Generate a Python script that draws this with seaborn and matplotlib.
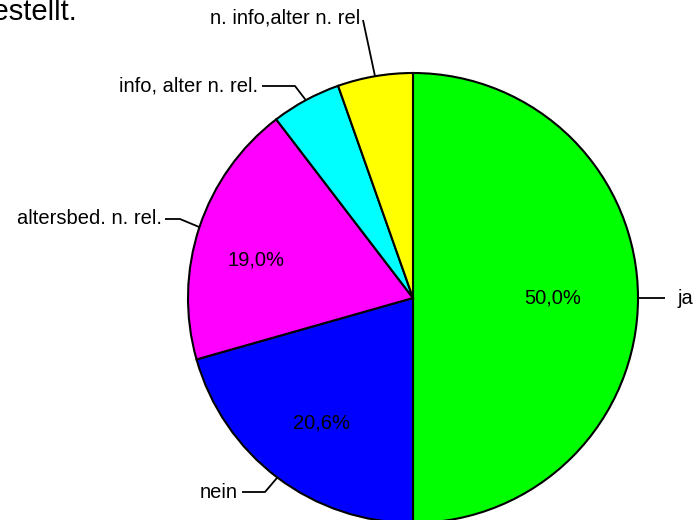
# pie chart of the answers, R-style labels with leader lines

import numpy as np
import matplotlib
matplotlib.use("Agg")
import matplotlib.pyplot as plt
import seaborn as sns

# data
categories = ["ja", "nein", "altersbed. n. rel.", "info, alter n. rel.", "n. info,alter n. rel"]
shares = [50.0, 20.6, 19.0, 5.0, 5.4]
colors = ["#00ff00", "#0000ff", "#ff00ff", "#00ffff", "#ffff00"]
show_pct = [True, True, True, False, False]

sns.set_style("white")
plt.rcParams["font.family"] = ["Liberation Sans", "DejaVu Sans"]
plt.rcParams["text.color"] = "black"

W, H = 695, 520
cx, cy, R = 413, 298, 225   # pie centre and radius in pixels


def px(x, y):
    # pixel position (from top left) -> data coords with pie radius 1
    return (x - cx) / R, (cy - y) / R


fig = plt.figure(figsize=(W / 100, H / 100), dpi=100)
ax = fig.add_axes([0, 0, 1, 1])

wedges, _ = ax.pie(shares, colors=colors, startangle=90, counterclock=False,
                   radius=1, wedgeprops=dict(edgecolor="black", linewidth=1.5))

# pie() resets the limits, so set them afterwards
ax.set_xlim(px(0, 0)[0], px(W, 0)[0])
ax.set_ylim(px(0, H)[1], px(0, 0)[1])
ax.set_aspect("equal")
ax.axis("off")

# label layout: elbow point and text anchor in pixels, text alignment
label_layout = [
    dict(elbow=None, text=(677, 298), ha="left"),
    dict(elbow=(265, 492), text=(238, 492), ha="right"),
    dict(elbow=(180, 219), text=(162, 219), ha="right"),
    dict(elbow=(295, 86), text=(258, 86), ha="right"),
    dict(elbow=None, text=(360, 18), ha="right"),
]
line_end = [(665, 298), (242, 492), (165, 219), (262, 86), (363, 20)]
pct_pos = [(553, 298), (321, 423), (256, 260)]

for i, w in enumerate(wedges):
    mid = np.deg2rad((w.theta1 + w.theta2) / 2)
    pts = [(np.cos(mid), np.sin(mid))]
    lay = label_layout[i]
    if lay["elbow"] is not None:
        pts.append(px(*lay["elbow"]))
    pts.append(px(*line_end[i]))
    pts = np.array(pts)
    ax.plot(pts[:, 0], pts[:, 1], color="black", lw=1.3, solid_capstyle="butt")
    tx, ty = px(*lay["text"])
    ax.text(tx, ty, categories[i], ha=lay["ha"], va="center", fontsize=14.5)

for i, show in enumerate(show_pct):
    if show:
        x, y = px(*pct_pos[i])
        ax.text(x, y, f"{shares[i]:.1f}%".replace(".", ","), ha="center",
                va="center", fontsize=14.5)

# title, cut off at the top left like in the original
tx, ty = px(78, 20.5)
ax.text(tx, ty, "dargestellt.", ha="right", va="baseline", fontsize=21)

plt.savefig("out.png", dpi=100)
plt.close()
